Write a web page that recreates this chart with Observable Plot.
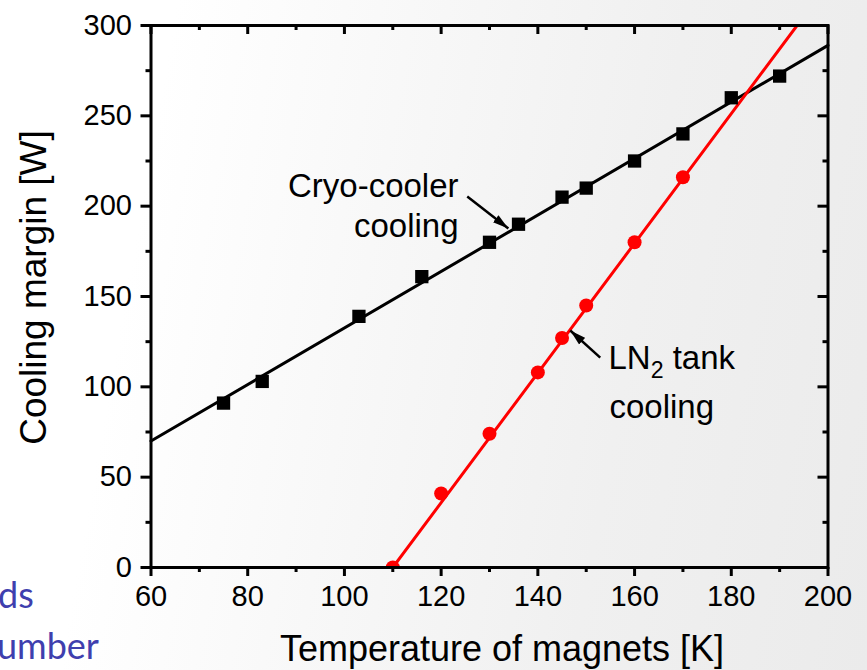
<!DOCTYPE html>
<html>
<head>
<meta charset="utf-8">
<script src="https://cdn.jsdelivr.net/npm/d3@7"></script>
<script src="https://cdn.jsdelivr.net/npm/@observablehq/plot@0.6"></script>
<style>
  html, body { margin: 0; padding: 0; }
  body {
    width: 867px; height: 670px; overflow: hidden; position: relative;
    background: linear-gradient(100deg, #ffffff 0%, #ffffff 18%, #f8f8f8 42%, #f0f0f0 70%, #ebebeb 100%);
    font-family: "Liberation Sans", Arial, sans-serif;
  }
  #chart { position: absolute; left: 0; top: 0; }
</style>
</head>
<body>
<div id="chart"></div>
<script>
// Cryo-cooler cooling margin vs. magnet temperature
const cryoTemp   = [75, 83, 103, 116, 130, 136, 145, 150, 160, 170, 180, 190];
const cryoMargin = [91, 103, 139, 161, 180, 190, 205, 210, 225, 240, 260, 272];
// linear fit through the cryo-cooler points
const cryoFitTemp   = [60, 200];
const cryoFitMargin = [70, 289];

// LN2 tank cooling margin vs. magnet temperature
const ln2Temp   = [110, 120, 130, 140, 145, 150, 160, 170];
const ln2Margin = [0, 41, 74, 108, 127, 145, 180, 216];
const ln2FitTemp   = [110, 193.6];
const ln2FitMargin = [0, 300];

// axis ticks
const xMajor = [60, 80, 100, 120, 140, 160, 180, 200];
const xMinor = [70, 90, 110, 130, 150, 170, 190];
const yMajor = [0, 50, 100, 150, 200, 250, 300];
const yMinor = [25, 75, 125, 175, 225, 275];

const xTitle = "Temperature of magnets [K]";
const yTitle = "Cooling margin [W]";

// annotation text lines (x, baseline y in data units)
const noteText   = ["Cryo-cooler", "cooling", "LN2 tank", "cooling"];
const noteX      = [123.6, 123.6, 154.6, 154.8];
const noteY      = [204.8, 183.2, 110.1, 83.0];
const noteAnchor = ["end", "end", "start", "start"];

// annotation arrows (tail -> head)
const arrowX1 = [125.4, 152.9];
const arrowY1 = [205.3, 116.2];
const arrowX2 = [133.9, 146.7];
const arrowY2 = [187.6, 131.2];

const cryo = cryoTemp.map((t, i) => ({t, m: cryoMargin[i]}));
const cryoFit = cryoFitTemp.map((t, i) => ({t, m: cryoFitMargin[i]}));
const ln2 = ln2Temp.map((t, i) => ({t, m: ln2Margin[i]}));
const ln2Fit = ln2FitTemp.map((t, i) => ({t, m: ln2FitMargin[i]}));
const notes = noteText.map((s, i) => ({s, x: noteX[i], y: noteY[i], a: noteAnchor[i]}));
const arrows = arrowX1.map((x1, i) => ({x1, y1: arrowY1[i], x2: arrowX2[i], y2: arrowY2[i]}));

const W = 867, H = 670;
const mL = 150.5, mR = 39.5, mT = 25, mB = 103;
const fw = W - mL - mR, fh = H - mT - mB;
const tick = {stroke: "black", strokeOpacity: 1, strokeWidth: 3};
const noteStyle = {x: "x", y: "y", text: "s", lineAnchor: "bottom", fontSize: 33, fill: "black"};

// filled, narrow arrowhead
function solidHead(color) {
  const m = d3.create("svg:marker")
    .attr("viewBox", "-16 -5 16 10")
    .attr("markerUnits", "userSpaceOnUse")
    .attr("markerWidth", 16)
    .attr("markerHeight", 10)
    .attr("refX", 0)
    .attr("refY", 0)
    .attr("orient", "auto");
  m.append("path").attr("d", "M-16,-4.5L0,0L-16,4.5Z").attr("fill", color).attr("stroke", "none");
  return m.node();
}

function arrowMark(useMarker) {
  return useMarker
    ? Plot.link(arrows, {x1: "x1", y1: "y1", x2: "x2", y2: "y2", stroke: "black", strokeWidth: 2.5, markerEnd: solidHead})
    : Plot.arrow(arrows, {x1: "x1", y1: "y1", x2: "x2", y2: "y2", stroke: "black", strokeWidth: 2.5, headLength: 14, headAngle: 35});
}

function build(useMarker) {
  return Plot.plot({
    width: W, height: H,
    marginLeft: mL, marginRight: mR, marginTop: mT, marginBottom: mB,
    style: {background: "transparent", fontFamily: "'Liberation Sans', Arial, sans-serif", color: "black", overflow: "visible"},
    x: {domain: [60, 200], axis: null},
    y: {domain: [0, 300], axis: null},
    marks: [
      // fitted lines
      Plot.line(cryoFit, {x: "t", y: "m", stroke: "black", strokeWidth: 3}),
      Plot.line(ln2Fit, {x: "t", y: "m", stroke: "#ff0000", strokeWidth: 3, clip: true}),
      // measured points
      Plot.dot(cryo, {x: "t", y: "m", symbol: "square", r: 7.5, fill: "black", stroke: null}),
      Plot.dot(ln2, {x: "t", y: "m", symbol: "circle", r: 7, fill: "#ff0000", stroke: null, clip: true}),
      // annotations
      arrowMark(useMarker),
      Plot.text(notes.filter(d => d.a === "end"), {...noteStyle, textAnchor: "end"}),
      Plot.text(notes.filter(d => d.a === "start"), {...noteStyle, textAnchor: "start"}),
      // ticks: bottom/left outward, top/right inward
      Plot.gridX(xMajor, {...tick, insetTop: fh, insetBottom: -9}),
      Plot.gridX(xMinor, {...tick, insetTop: fh, insetBottom: -5}),
      Plot.gridX(xMajor, {...tick, insetBottom: fh - 9}),
      Plot.gridX(xMinor, {...tick, insetBottom: fh - 5}),
      Plot.gridY(yMajor, {...tick, insetRight: fw, insetLeft: -10}),
      Plot.gridY(yMinor, {...tick, insetRight: fw, insetLeft: -5}),
      Plot.gridY(yMajor, {...tick, insetLeft: fw - 10}),
      Plot.gridY(yMinor, {...tick, insetLeft: fw - 5}),
      // tick labels
      Plot.text(xMajor, {x: d => d, frameAnchor: "bottom", dy: 18, textAnchor: "middle", lineAnchor: "top", fontSize: 29, fill: "black"}),
      Plot.text(yMajor, {y: d => d, frameAnchor: "left", dx: -19, textAnchor: "end", lineAnchor: "middle", fontSize: 29, fill: "black"}),
      // axis titles
      Plot.text([xTitle], {frameAnchor: "bottom", dx: 12.5, dy: 93, textAnchor: "middle", lineAnchor: "bottom", fontSize: 36, fill: "black"}),
      Plot.text([yTitle], {frameAnchor: "left", rotate: -90, dx: -105.5, dy: -9, textAnchor: "middle", lineAnchor: "bottom", fontSize: 37, fill: "black"}),
      Plot.frame({stroke: "black", strokeWidth: 3})
    ]
  });
}

let svg;
try { svg = build(true); } catch (e) { svg = build(false); }

// subscript for LN2
d3.select(svg).selectAll("text")
  .filter(function () { return this.textContent === "LN2 tank"; })
  .each(function () {
    const t = d3.select(this);
    t.text(null);
    t.append("tspan").text("LN");
    t.append("tspan").attr("font-size", "0.7em").attr("dy", 9).text("2");
    t.append("tspan").attr("dy", -9).text(" tank");
  });

// slide text at the lower-left edge
const side = d3.select(svg).append("g")
  .attr("fill", "#3f3fae")
  .attr("text-anchor", "start")
  .attr("font-family", "Lato, 'Open Sans', sans-serif")
  .attr("font-weight", 400)
  .attr("font-size", 36);
side.append("text").attr("x", -2).attr("y", 608).text("ds");
side.append("text").attr("x", -3).attr("y", 659).text("umber");

document.getElementById("chart").appendChild(svg);
</script>
</body>
</html>
